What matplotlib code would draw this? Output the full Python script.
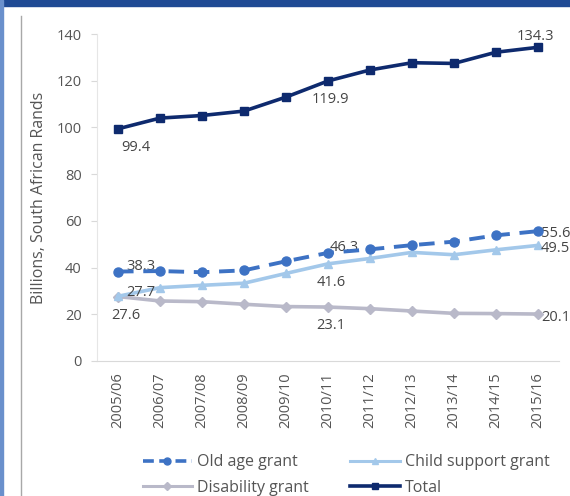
import matplotlib

matplotlib.use("Agg")
import matplotlib.pyplot as plt
from matplotlib.lines import Line2D
from matplotlib.patches import Rectangle

plt.rcParams["font.family"] = ["Open Sans", "DejaVu Sans"]

years = ["2005/06", "2006/07", "2007/08", "2008/09", "2009/10", "2010/11",
         "2011/12", "2012/13", "2013/14", "2014/15", "2015/16"]
old_age = [38.3, 38.5, 38.0, 38.8, 42.7, 46.3, 47.8, 49.6, 51.1, 53.8, 55.6]
child_support = [27.7, 31.4, 32.4, 33.3, 37.5, 41.6, 43.9, 46.5, 45.5, 47.6, 49.5]
disability = [27.6, 25.7, 25.4, 24.3, 23.3, 23.1, 22.4, 21.4, 20.4, 20.3, 20.1]
total = [99.4, 104.0, 105.1, 107.0, 113.0, 119.9, 124.6, 127.7, 127.4, 132.2, 134.3]

TXT = "#555555"
LBL = "#454545"
C_OLD = "#3d72c4"
C_CHILD = "#a3c8ea"
C_DIS = "#b9b9c9"
C_TOT = "#0e2a6e"

fig = plt.figure(figsize=(5.70, 4.96), dpi=100)
W, H = 570, 496

# frame decoration
fig.patches.append(Rectangle((0, 1 - 6 / H), 1, 6 / H, transform=fig.transFigure,
                             color="#1f4a94", zorder=0))
fig.patches.append(Rectangle((0, 0), 3 / W, 1, transform=fig.transFigure,
                             color="#6a90cc", zorder=0))
fig.lines.append(Line2D([21 / W, 21 / W], [0, 1 - 16 / H], transform=fig.transFigure,
                        color="#a8a8a8", linewidth=1.0))

ax = fig.add_axes([97 / W, 1 - 361 / H, (559 - 97) / W, (361 - 34) / H])
x = list(range(len(years)))

ax.plot(x, total, color=C_TOT, linewidth=2.6, marker="s", markersize=5.5, zorder=5)
ax.plot(x, disability, color=C_DIS, linewidth=2.6, marker="D", markersize=5, zorder=2)
ax.plot(x, child_support, color=C_CHILD, linewidth=2.6, marker="^", markersize=6, zorder=3)
ax.plot(x, old_age, color=C_OLD, linewidth=2.8, linestyle=(0, (4, 2.5)), marker="o",
        markersize=6.5, zorder=4)

ax.set_xlim(-0.5, len(years) - 0.5)
ax.set_ylim(0, 140)
ax.set_yticks(range(0, 141, 20))
ax.set_xticks(x)
ax.set_xticklabels(years, rotation=90)
ax.tick_params(axis="both", labelcolor=TXT, labelsize=10.5)
ax.tick_params(axis="y", length=4, color="#d9d9d9", pad=7)
ax.tick_params(axis="x", length=0, pad=8)
ax.set_ylabel("Billions, South African Rands", color=TXT, fontsize=11.5, labelpad=7)
for side in ["top", "right"]:
    ax.spines[side].set_visible(False)
ax.spines["left"].set_color("#e6e6e6")
ax.spines["bottom"].set_color("#d9d9d9")

fs = 10.5
ax.annotate("38.3", (0, old_age[0]), xytext=(6, 1), textcoords="offset points",
            color=LBL, fontsize=fs)
ax.annotate("27.7", (0, child_support[0]), xytext=(6, 0), textcoords="offset points",
            color=LBL, fontsize=fs)
ax.annotate("27.6", (0, disability[0]), xytext=(-5, -16), textcoords="offset points",
            color=LBL, fontsize=fs)
ax.annotate("99.4", (0, total[0]), xytext=(2, -16), textcoords="offset points",
            color=LBL, fontsize=fs)
ax.annotate("119.9", (5, total[5]), xytext=(2, -16), textcoords="offset points",
            color=LBL, fontsize=fs, ha="center")
ax.annotate("134.3", (10, total[10]), xytext=(-2, 5), textcoords="offset points",
            color=LBL, fontsize=fs, ha="center")
ax.annotate("46.3", (5, old_age[5]), xytext=(1, 1), textcoords="offset points",
            color=LBL, fontsize=fs)
ax.annotate("41.6", (5, child_support[5]), xytext=(2, -16), textcoords="offset points",
            color=LBL, fontsize=fs, ha="center")
ax.annotate("23.1", (5, disability[5]), xytext=(2, -16), textcoords="offset points",
            color=LBL, fontsize=fs, ha="center")
ax.annotate("55.6", (10, old_age[10]), xytext=(2, -4), textcoords="offset points",
            color=LBL, fontsize=fs)
ax.annotate("49.5", (10, child_support[10]), xytext=(2, -5), textcoords="offset points",
            color=LBL, fontsize=fs)
ax.annotate("20.1", (10, disability[10]), xytext=(2, -5), textcoords="offset points",
            color=LBL, fontsize=fs)

# legend handles with smaller markers, column-major order
leg_handles = [
    Line2D([], [], color=C_OLD, linewidth=2.6, linestyle=(0, (3, 1.5)), marker="o",
           markersize=5),
    Line2D([], [], color=C_DIS, linewidth=2.2, marker="D", markersize=4),
    Line2D([], [], color=C_CHILD, linewidth=2.2, marker="^", markersize=5),
    Line2D([], [], color=C_TOT, linewidth=2.6, marker="s", markersize=4.5),
]
leg_labels = ["Old age grant", "Disability grant", "Child support grant", "Total"]
leg = fig.legend(leg_handles, leg_labels, ncol=2, loc="center",
                 bbox_to_anchor=(346 / W, 1 - 475 / H), frameon=False, fontsize=11.5,
                 handlelength=3.1, columnspacing=2.6, labelspacing=0.6,
                 handletextpad=0.3, borderpad=0.2)
for t in leg.get_texts():
    t.set_color(TXT)

fig.savefig("out.png", dpi=100)
